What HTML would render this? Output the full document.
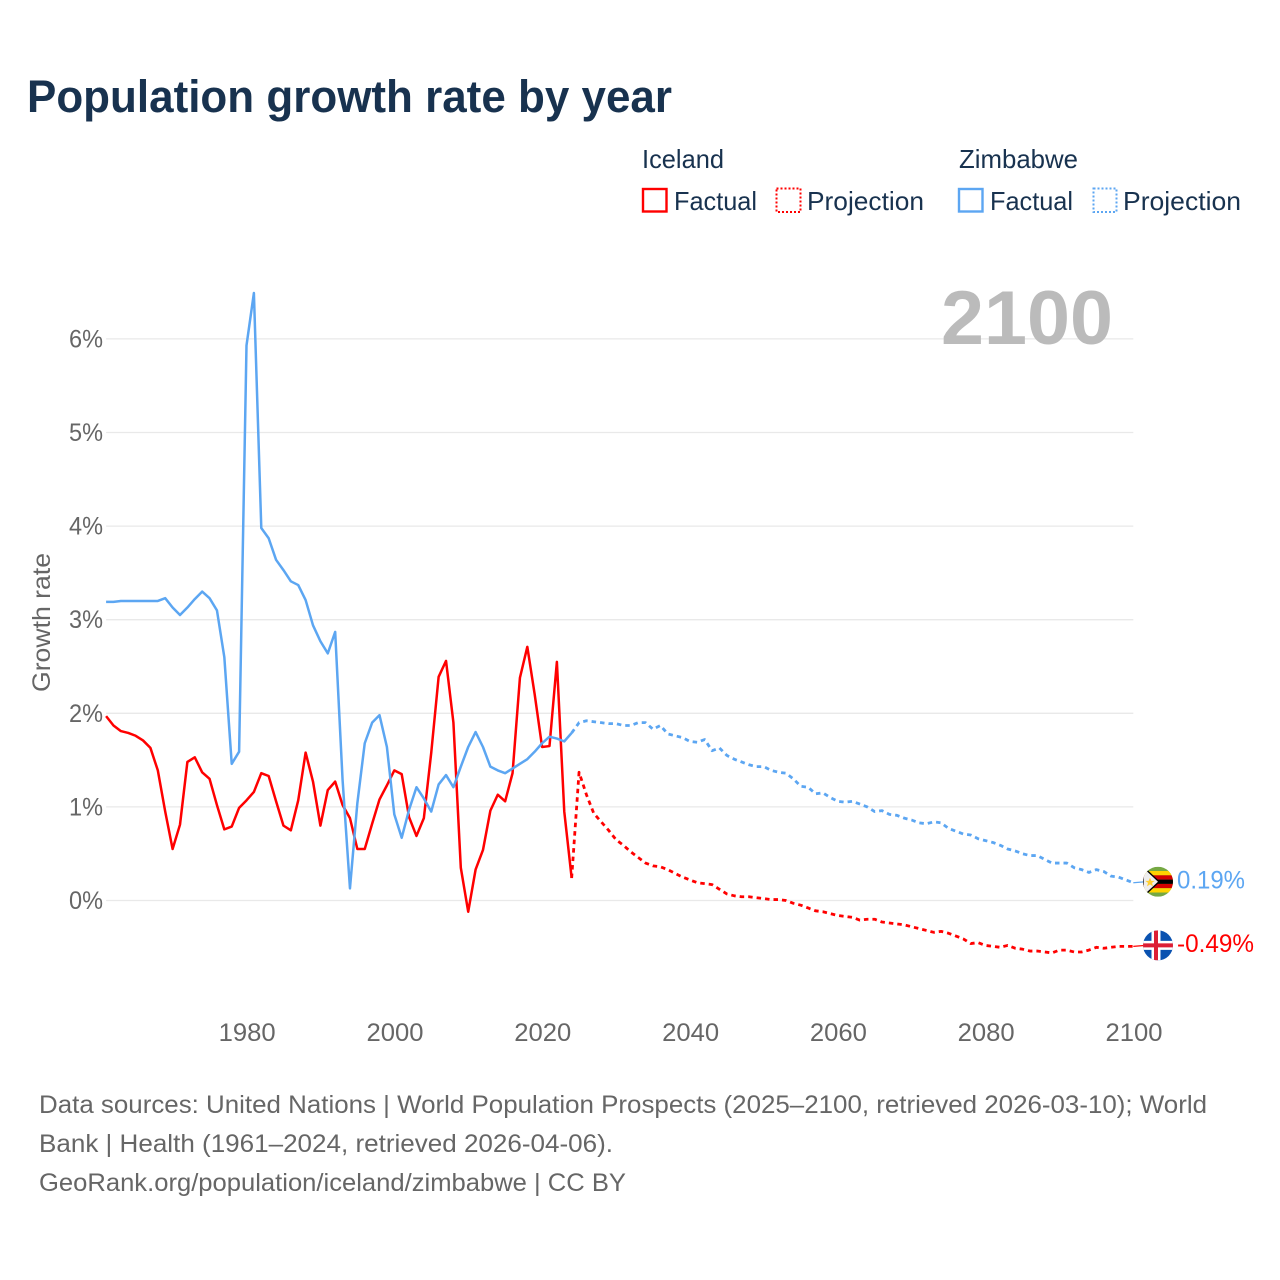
<!DOCTYPE html>
<html lang="en">
<head>
<meta charset="utf-8">
<title>Population growth rate by year</title>
<style>
html,body{margin:0;padding:0;background:#fff;}
svg{display:block;}
text{font-family:"Liberation Sans",sans-serif;}
</style>
</head>
<body>
<svg id="chart" xmlns="http://www.w3.org/2000/svg" width="1280" height="1280" viewBox="0 0 1280 1280">
  <rect x="0" y="0" width="1280" height="1280" fill="#ffffff"/>
  <text x="27" y="112" font-size="45" font-weight="700" fill="#18324f" textLength="645" lengthAdjust="spacingAndGlyphs">Population growth rate by year</text>

  <g font-size="26" fill="#18324f">
    <text x="642" y="168" textLength="82" lengthAdjust="spacingAndGlyphs">Iceland</text>
    <text x="959" y="168" textLength="119" lengthAdjust="spacingAndGlyphs">Zimbabwe</text>
    <rect x="643" y="189" width="23.5" height="22.5" fill="none" stroke="#ff0000" stroke-width="2.4"/>
    <text x="674" y="210" textLength="83" lengthAdjust="spacingAndGlyphs">Factual</text>
    <rect x="776.5" y="188.5" width="24" height="23.5" fill="none" stroke="#ff0000" stroke-width="2" stroke-dasharray="2 2"/>
    <text x="807" y="210" textLength="117" lengthAdjust="spacingAndGlyphs">Projection</text>
    <rect x="959" y="189" width="23.5" height="22.5" fill="none" stroke="#5ca6f2" stroke-width="2.4"/>
    <text x="990" y="210" textLength="83" lengthAdjust="spacingAndGlyphs">Factual</text>
    <rect x="1093.5" y="188.5" width="23" height="23.5" fill="none" stroke="#5ca6f2" stroke-width="2" stroke-dasharray="2 2"/>
    <text x="1123" y="210" textLength="118" lengthAdjust="spacingAndGlyphs">Projection</text>
  </g>

  <g id="grid"></g>
  <text x="941" y="344" font-size="76" font-weight="700" fill="#bbbbbb" textLength="172" lengthAdjust="spacingAndGlyphs">2100</text>
  <g id="y-axis" font-size="25" fill="#666666"></g>
  <g id="x-axis" font-size="25" fill="#666666"></g>
  <text transform="translate(50,692) rotate(-90)" font-size="25" fill="#666666" textLength="139" lengthAdjust="spacingAndGlyphs">Growth rate</text>
  <g id="series"></g>

  <defs>
    <clipPath id="clip-zw"><circle cx="0" cy="0" r="15"/></clipPath>
    <clipPath id="clip-is"><circle cx="0" cy="0" r="15"/></clipPath>
  </defs>
  <g id="flag-zimbabwe" clip-path="url(#clip-zw)">
    <rect x="-15" y="-15" width="30" height="30" fill="#75a843"/>
    <rect x="-15" y="-10.7" width="30" height="4.3" fill="#ffd200"/>
    <rect x="-15" y="-6.4" width="30" height="4.3" fill="#d40000"/>
    <rect x="-15" y="-2.1" width="30" height="4.3" fill="#000000"/>
    <rect x="-15" y="2.2" width="30" height="4.3" fill="#d40000"/>
    <rect x="-15" y="6.5" width="30" height="4.3" fill="#ffd200"/>
    <polygon points="-15,-15 1,0 -15,15" fill="#eeeeee" stroke="#000000" stroke-width="1.4"/>
    <polygon points="-8,-4 -6.6,-0.8 -3.2,-0.8 -6,1.2 -5,4.6 -8,2.6 -11,4.6 -10,1.2 -12.8,-0.8 -9.4,-0.8" fill="#ffcf33"/>
  </g>
  <g id="flag-iceland" clip-path="url(#clip-is)">
    <rect x="-15" y="-15" width="30" height="30" fill="#0a52b0"/>
    <rect x="-15" y="-4.5" width="30" height="9" fill="#ffffff"/>
    <rect x="-6.5" y="-15" width="9" height="30" fill="#ffffff"/>
    <rect x="-15" y="-2" width="30" height="4" fill="#dc1e35"/>
    <rect x="-4" y="-15" width="4" height="30" fill="#dc1e35"/>
  </g>
  <text id="end-label-zimbabwe" x="1177" font-size="25" fill="#5ca6f2" textLength="68" lengthAdjust="spacingAndGlyphs"></text>
  <text id="end-label-iceland" x="1177" font-size="25" fill="#ff0000" textLength="77" lengthAdjust="spacingAndGlyphs"></text>

  <g font-size="25" fill="#666666">
    <text x="39" y="1113" textLength="1168" lengthAdjust="spacingAndGlyphs">Data sources: United Nations | World Population Prospects (2025–2100, retrieved 2026-03-10); World</text>
    <text x="39" y="1152" textLength="574" lengthAdjust="spacingAndGlyphs">Bank | Health (1961–2024, retrieved 2026-04-06).</text>
    <text x="39" y="1191" textLength="587" lengthAdjust="spacingAndGlyphs">GeoRank.org/population/iceland/zimbabwe | CC BY</text>
  </g>
</svg>
<script>
const factualStartYear = 1961;
const projectionStartYear = 2025;
const yTickValues = [0, 1, 2, 3, 4, 5, 6];
const xTickValues = [1980, 2000, 2020, 2040, 2060, 2080, 2100];

const icelandFactual = [1.97,1.87,1.81,1.79,1.76,1.71,1.63,1.39,0.95,0.55,0.81,1.48,1.53,1.37,1.30,1.02,0.76,0.79,0.99,1.07,1.16,1.36,1.33,1.06,0.80,0.75,1.07,1.58,1.27,0.80,1.18,1.27,1.02,0.88,0.55,0.55,0.82,1.08,1.23,1.39,1.35,0.89,0.69,0.88,1.58,2.39,2.56,1.90,0.35,-0.12,0.33,0.54,0.96,1.13,1.06,1.36,2.38,2.71,2.20,1.64,1.65,2.55,0.95,0.24];
const zimbabweFactual = [3.19,3.19,3.20,3.20,3.20,3.20,3.20,3.20,3.23,3.13,3.05,3.13,3.22,3.30,3.23,3.10,2.60,1.46,1.59,5.93,6.49,3.98,3.87,3.64,3.53,3.41,3.37,3.21,2.94,2.77,2.64,2.87,1.29,0.13,1.04,1.68,1.90,1.98,1.64,0.92,0.67,0.97,1.21,1.09,0.95,1.24,1.34,1.21,1.43,1.64,1.80,1.64,1.43,1.39,1.36,1.41,1.46,1.51,1.59,1.68,1.75,1.73,1.70,1.79];
const icelandProjection = [1.37,1.13,0.93,0.84,0.75,0.65,0.59,0.52,0.46,0.40,0.37,0.36,0.33,0.29,0.25,0.22,0.19,0.18,0.17,0.12,0.07,0.05,0.04,0.04,0.03,0.02,0.01,0.01,0.00,-0.03,-0.05,-0.08,-0.11,-0.12,-0.14,-0.16,-0.17,-0.18,-0.21,-0.20,-0.20,-0.23,-0.24,-0.25,-0.26,-0.28,-0.30,-0.32,-0.34,-0.33,-0.35,-0.38,-0.41,-0.46,-0.45,-0.48,-0.49,-0.50,-0.48,-0.51,-0.52,-0.54,-0.54,-0.55,-0.56,-0.53,-0.53,-0.55,-0.55,-0.53,-0.50,-0.51,-0.50,-0.49,-0.49,-0.49];
const zimbabweProjection = [1.90,1.92,1.91,1.90,1.89,1.89,1.87,1.87,1.90,1.90,1.83,1.87,1.78,1.76,1.74,1.70,1.69,1.72,1.60,1.63,1.55,1.51,1.48,1.45,1.43,1.43,1.39,1.37,1.36,1.30,1.22,1.21,1.14,1.15,1.10,1.06,1.05,1.06,1.03,1.00,0.95,0.96,0.92,0.91,0.88,0.86,0.83,0.82,0.84,0.83,0.77,0.74,0.71,0.70,0.66,0.64,0.62,0.59,0.55,0.53,0.50,0.48,0.48,0.44,0.40,0.40,0.40,0.35,0.33,0.30,0.33,0.31,0.26,0.25,0.22,0.19];

function xScale(year) { return 246.5 + (year - 1980) * 7.39; }
function yScale(value) { return 900.5 - value * 93.6; }

const svgNS = 'http://www.w3.org/2000/svg';

const gridGroup = document.getElementById('grid');
const yAxisGroup = document.getElementById('y-axis');
yTickValues.forEach(function (v) {
  const line = document.createElementNS(svgNS, 'line');
  
  
  line.setAttribute('x1', xScale(1961));
  line.setAttribute('x2', xScale(2100));
  line.setAttribute('y1', yScale(v));
  line.setAttribute('y2', yScale(v));
  line.setAttribute('stroke', '#e9e9e9');
  line.setAttribute('stroke-width', '1.3');
  gridGroup.appendChild(line);

  const label = document.createElementNS(svgNS, 'text');
  
  
  label.setAttribute('x', 103);
  label.setAttribute('y', yScale(v) + 8.5);
  label.setAttribute('text-anchor', 'end');
  label.setAttribute('textLength', '34');
  label.setAttribute('lengthAdjust', 'spacingAndGlyphs');
  label.textContent = v + '%';
  yAxisGroup.appendChild(label);
});

const xAxisGroup = document.getElementById('x-axis');
xTickValues.forEach(function (yr) {
  const label = document.createElementNS(svgNS, 'text');
  
  
  label.setAttribute('x', xScale(yr) + 0.7);
  label.setAttribute('y', 1041);
  label.setAttribute('text-anchor', 'middle');
  label.setAttribute('textLength', '57');
  label.setAttribute('lengthAdjust', 'spacingAndGlyphs');
  label.textContent = yr;
  xAxisGroup.appendChild(label);
});

function pointsFrom(values, startYear) {
  return values.map(function (v, i) {
    return xScale(startYear + i).toFixed(2) + ',' + yScale(v).toFixed(2);
  }).join(' ');
}

const seriesGroup = document.getElementById('series');

function addLine(name, points, color, dashed, width) {
  const line = document.createElementNS(svgNS, 'polyline');
  
  
  line.setAttribute('points', points);
  line.setAttribute('fill', 'none');
  line.setAttribute('stroke', color);
  line.setAttribute('stroke-width', width);
  line.setAttribute('stroke-linejoin', 'round');
  if (dashed) line.setAttribute('stroke-dasharray', '4.5 4');
  seriesGroup.appendChild(line);
}

const red = '#ff0000';
const blue = '#5ca6f2';
const lastIcelandFactual = icelandFactual[icelandFactual.length - 1];
const lastZimbabweFactual = zimbabweFactual[zimbabweFactual.length - 1];
addLine('iceland-projection-line', pointsFrom([lastIcelandFactual].concat(icelandProjection), projectionStartYear - 1), red, true, 2.8);
addLine('iceland-factual-line', pointsFrom(icelandFactual, factualStartYear), red, false, 2.5);
addLine('zimbabwe-projection-line', pointsFrom([lastZimbabweFactual].concat(zimbabweProjection), projectionStartYear - 1), blue, true, 2.8);
addLine('zimbabwe-factual-line', pointsFrom(zimbabweFactual, factualStartYear), blue, false, 2.5);

const lastIceland = icelandProjection[icelandProjection.length - 1];
const lastZimbabwe = zimbabweProjection[zimbabweProjection.length - 1];

function addConnector(name, value, color) {
  const line = document.createElementNS(svgNS, 'line');
  
  
  line.setAttribute('x1', xScale(2100));
  line.setAttribute('x2', 1146);
  line.setAttribute('y1', yScale(value));
  line.setAttribute('y2', yScale(value) - 1);
  line.setAttribute('stroke', color);
  line.setAttribute('stroke-width', '1.2');
  seriesGroup.appendChild(line);
}
addConnector('iceland-end-connector', lastIceland, red);
addConnector('zimbabwe-end-connector', lastZimbabwe, blue);

document.getElementById('flag-zimbabwe').setAttribute('transform', 'translate(1158,' + (yScale(lastZimbabwe) - 1) + ')');
document.getElementById('flag-iceland').setAttribute('transform', 'translate(1158,' + (yScale(lastIceland) - 1) + ')');

const endZw = document.getElementById('end-label-zimbabwe');
endZw.setAttribute('y', yScale(lastZimbabwe) + 6);
endZw.textContent = lastZimbabwe.toFixed(2) + '%';
const endIs = document.getElementById('end-label-iceland');
endIs.setAttribute('y', yScale(lastIceland) + 5.5);
endIs.textContent = lastIceland.toFixed(2) + '%';
</script>
</body>
</html>
